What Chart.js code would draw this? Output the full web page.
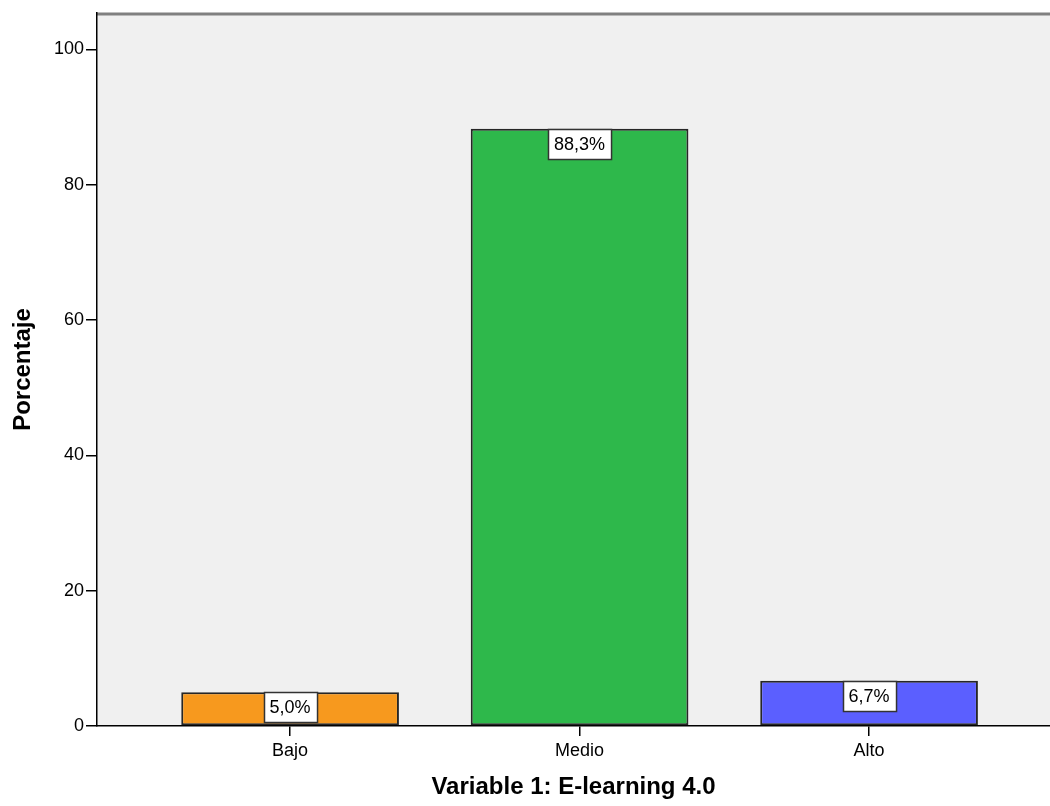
<!DOCTYPE html>
<html lang="es">
<head>
    <meta charset="UTF-8">
    <title>Variable 1: E-learning 4.0</title>
    <script src="https://cdn.jsdelivr.net/npm/chart.js"></script>
    <style>
        html, body { margin: 0; padding: 0; background: #fff; }
        #wrap { width: 1050px; height: 806px; }
    </style>
</head>
<body>
    <div id="wrap"><canvas id="barChart"></canvas></div>
    <script>
        const categories = ['Bajo', 'Medio', 'Alto'];
        const percentages = [5.0, 88.3, 6.7];
        const barColors = ['#f7991e', '#2eb84b', '#5b5fff'];
        const yTicks = [0, 20, 40, 60, 80, 100];

        const font = 'Arial, "Liberation Sans", sans-serif';

        // plot background, top border and value boxes
        const spssLook = {
            id: 'spssLook',
            beforeDraw(chart) {
                const { ctx, chartArea: a } = chart;
                ctx.save();
                ctx.fillStyle = '#f0f0f0';
                ctx.fillRect(a.left, a.top, a.right - a.left, a.bottom - a.top);
                ctx.strokeStyle = '#808080';
                ctx.lineWidth = 3;
                ctx.beginPath();
                ctx.moveTo(a.left, a.top + 1);
                ctx.lineTo(a.right, a.top + 1);
                ctx.stroke();
                ctx.restore();
            },
            afterDatasetsDraw(chart) {
                const { ctx } = chart;
                const meta = chart.getDatasetMeta(0);
                ctx.save();
                ctx.font = '18px ' + font;
                ctx.textAlign = 'center';
                ctx.textBaseline = 'middle';
                meta.data.forEach((bar, i) => {
                    const txt = percentages[i].toFixed(1).replace('.', ',') + '%';
                    const w = ctx.measureText(txt).width + 12;
                    const h = 30;
                    const x = Math.round(bar.x - w / 2) + 0.5;
                    const y = Math.round(bar.y) + 0.5;
                    ctx.fillStyle = '#ffffff';
                    ctx.fillRect(x, y, w, h);
                    ctx.strokeStyle = '#333333';
                    ctx.lineWidth = 1.5;
                    ctx.strokeRect(x, y, w, h);
                    ctx.fillStyle = '#000000';
                    ctx.fillText(txt, bar.x, y + h / 2 + 1);
                });
                ctx.restore();
            }
        };

        new Chart(document.getElementById('barChart'), {
            type: 'bar',
            data: {
                datasets: [{
                    data: percentages.map((v, i) => ({ x: i, y: v })),
                    backgroundColor: barColors,
                    borderColor: '#262626',
                    borderWidth: 2,
                    borderSkipped: false,
                    barPercentage: 0.94,
                    categoryPercentage: 0.8
                }]
            },
            options: {
                responsive: true,
                maintainAspectRatio: false,
                animation: false,
                layout: { padding: { top: 13, right: 0, left: 0, bottom: 0 } },
                plugins: { legend: { display: false }, tooltip: { enabled: false } },
                scales: {
                    x: {
                        type: 'linear',
                        offset: false,
                        min: -0.667,
                        max: 2.625,
                        afterBuildTicks: s => { s.ticks = categories.map((c, i) => ({ value: i })); },
                        afterFit: s => { s.height = 80; },
                        ticks: {
                            color: '#000',
                            font: { family: font, size: 18 },
                            padding: 4,
                            callback: v => categories[v]
                        },
                        grid: { offset: false, drawOnChartArea: false, drawTicks: true, tickLength: 10, color: '#000', lineWidth: 1.5 },
                        border: { display: true, color: '#000', width: 1.5 },
                        title: {
                            display: true,
                            text: 'Variable 1: E-learning 4.0',
                            color: '#000',
                            font: { family: font, size: 24, weight: 'bold' },
                            padding: { top: 0, bottom: 4 }
                        }
                    },
                    y: {
                        min: 0,
                        max: 105.4,
                        afterBuildTicks: s => { s.ticks = yTicks.map(v => ({ value: v })); },
                        afterFit: s => { s.width = 97; },
                        ticks: {
                            color: '#000',
                            font: { family: font, size: 18 },
                            padding: 2
                        },
                        grid: { drawOnChartArea: false, drawTicks: true, tickLength: 11, color: '#000', lineWidth: 1.5 },
                        border: { display: true, color: '#000', width: 1.5 },
                        title: {
                            display: true,
                            text: 'Porcentaje',
                            color: '#000',
                            font: { family: font, size: 24, weight: 'bold' },
                            padding: { top: 9, bottom: 0 }
                        }
                    }
                }
            },
            plugins: [spssLook]
        });
    </script>
</body>
</html>
